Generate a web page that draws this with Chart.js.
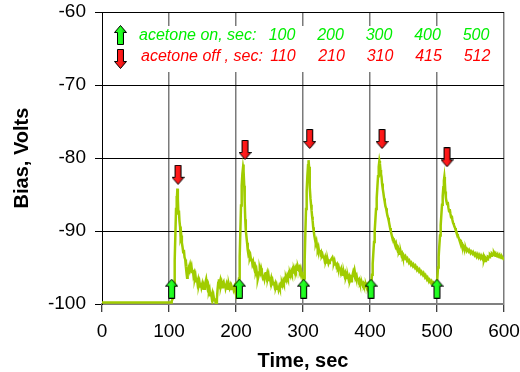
<!DOCTYPE html>
<html><head><meta charset="utf-8">
<script src="https://cdn.jsdelivr.net/npm/chart.js@4"></script>
<style>html,body{margin:0;padding:0;background:#fff;}canvas{display:block;}</style>
</head><body>
<canvas id="c" width="520" height="372"></canvas>
<script>
// ---- data ----
const timeSec = [0,50,103,
104,106,107.5,108.5,109.5,110.5,111.2,111.8,112.5,113.2,114,114.8,115.6,116.5,117.4,118.3,119.2,120.2,121.2,122.2,123.2,124.2,125.2,126.2,127,127.8,128.6,129.5,130.5,131.5,132.5,133.5,134.5,135.5,136.5,137.5,138.5,139.5,140.5,141.5,142.5,143.5,144.5,145.5,146.5,147.5,148.5,149.5,150.5,151.5,152.5,153.5,154.5,155.5,156.5,157.5,158.5,159.5,160.5,161.5,162.5,163.5,164.5,165.5,166.5,167.5,168.5,169.5,170.5,171.5,172.5,173.5,174.5,175.5,176.5,177.5,178.5,179.5,180.5,181.5,182.5,183.5,184.5,185.5,186.5,187.5,188.5,189.5,190.5,191.5,192.5,193.5,194.5,195.5,196.5,197.5,198.5,199.5,200.5,201.5,202.5,203.5,
204.5,205.5,206.5,207.5,208.5,209.5,210.5,211,211.6,212.3,213,213.8,214.6,215.5,216.5,217.5,218.5,219.5,220.5,221.5,222.5,223.5,224.5,225.5,226.5,227.5,228.5,229.5,230.5,231.5,232.5,233.5,234.5,235.5,236.5,237.5,238.5,239.5,240.5,241.5,242.5,243.5,244.5,245.5,246.5,247.5,248.5,249.5,250.5,251.5,252.5,253.5,254.5,255.5,256.5,257.5,258.5,259.5,260.5,261.5,262.5,263.5,264.5,265.5,266.5,267.5,268.5,269.5,270.5,271.5,272.5,273.5,274.5,275.5,276.5,277.5,278.5,279.5,280.5,281.5,282.5,283.5,284.5,285.5,286.5,287.5,288.5,289.5,290.5,291.5,292.5,293.5,294.5,295.5,296.5,297.5,298.5,299.5,300.5,301.5,
302.5,303.5,304.5,305.5,306.5,307.5,308.3,309,309.7,310.4,311.2,312,312.8,313.6,314.4,315.2,316,317,318,319,320,321,322,323,324,325,326,327,328,329,330,331,332,333,334,335,336,337,338,339,340,342,344,345,346,347,348,349,350,351,352,353,354,355,356,357,358,359,360,361,362,363,364,365,366,367,368,369,370,371,372,373,374,375,376,377,378,379,380,381,382,383,384,385,386,387,388,389,390,391,392,393,394,395,396,397,398,399,400,401,402,
403,404,405,406,407,408,409,410,411,412,413,414,414.8,415.6,416.4,417.2,418,419,420,421,422,423,424,425,426,427,428,429,430,431,432,433,434,435,436,437,438,439,440,441,442,443,444,445,446,447,448,449,450,452,453,455,456,458,459,461,462,464,465,467,468,470,471,473,474,476,477,479,480,482,483,485,486,488,489,491,492,494,495,497,498,499.5,
500.5,501.5,502.5,503.5,504.5,505.5,506.5,507.5,508.5,509.5,510.3,511,511.7,512.4,513.2,514,515,516,517,518,519,520,521,522,523,524,525,526,527,528,529,530,531,532,533,534,535,536,537,538,539,540,541,542,543,544,545,547,548,550,551,553,554,556,557,559,560,562,563,565,566,568,569,570,571,572,573,575,576,578,579,581,582,584,585,587,588,590,591,593,594,596,597,599,600];

const biasVolts = [-99.8,-99.8,-99.8,
-99.6,-99.2,-97.5,-94,-90.5,-87,-85.2,-86.2,-84.2,-85.6,-87.6,-87.2,-88.6,-89.4,-90.9,-90.6,-91.6,-92.2,-92.9,-92.6,-93.6,-93.9,-94.9,-95.8,-96.4,-96.0,-95.4,-95.9,-95.0,-94.6,-95.1,-94.8,-95.6,-95.3,-96.1,-95.8,-96.5,-96.1,-96.9,-96.4,-97.1,-96.7,-97.4,-97.0,-97.6,-97.1,-97.7,-97.3,-98.0,-97.5,-97.9,-97.4,-97.0,-96.6,-97.3,-97.8,-97.5,-98.3,-98.0,-98.8,-98.4,-99.0,-98.6,-99.3,-98.9,-99.5,-99.2,-99.8,-100.2,-99.3,-98.0,-97.1,-96.6,-97.2,-96.8,-97.5,-97.1,-97.7,-97.2,-97.0,-97.6,-97.2,-97.8,-97.4,-98.0,-97.5,-97.9,-97.4,-97.8,-97.5,-98.1,-97.6,-97.9,-97.5,-98.0,-97.7,-98.1,-97.6,-98.0,-97.5,-97.8,-97.4,
-96.5,-93.5,-90,-86.5,-83.8,-82.2,-81.3,-80.9,-81.8,-83.8,-86,-88.4,-89.9,-90.7,-91.6,-92.6,-93.2,-93.0,-93.7,-93.4,-94.0,-93.8,-94.5,-94.2,-94.8,-95.2,-94.9,-95.6,-95.3,-96.0,-96.6,-96.2,-95.7,-95.2,-95.6,-95.1,-95.5,-96.2,-96.6,-96.0,-96.5,-95.9,-95.6,-96.2,-95.8,-96.4,-96.0,-96.7,-96.3,-96.9,-96.5,-97.1,-96.8,-97.3,-97.0,-97.5,-97.2,-97.7,-97.4,-97.9,-97.5,-98.0,-97.6,-97.9,-97.4,-97.6,-97.1,-97.4,-96.9,-97.2,-96.7,-96.9,-96.4,-96.7,-96.2,-96.5,-96.0,-96.3,-95.8,-96.1,-95.6,-95.9,-95.4,-95.7,-95.3,-95.6,-95.1,-95.4,-95.0,-95.3,-94.9,-95.2,-95.0,-95.4,-95.1,-95.6,-96.0,-96.4,-96.8,-96.5,
-94,-90.3,-87,-84.5,-82.5,-81,-80.3,-81.2,-82.8,-84,-85.6,-86.4,-87.2,-88,-88.6,-89.5,-90.0,-90.7,-91.2,-91.7,-91.4,-92.1,-92.5,-92.2,-92.8,-92.6,-93.1,-92.9,-93.4,-93.2,-93.6,-93.4,-93.9,-93.6,-94.1,-93.8,-94.3,-94.0,-94.4,-94.1,-94.2,-93.9,-93.6,-93.9,-94.4,-94.1,-94.6,-94.3,-94.8,-94.6,-95.0,-94.8,-95.2,-95.0,-95.5,-95.2,-95.7,-95.5,-96.0,-95.7,-96.1,-95.8,-96.3,-96.0,-96.4,-96.2,-96.6,-96.3,-96.8,-96.5,-96.9,-96.4,-96.0,-95.6,-95.9,-95.4,-95.9,-96.3,-96.1,-96.6,-96.4,-96.9,-96.7,-97.1,-96.9,-97.3,-97.1,-97.4,-97.2,-97.5,-97.3,-97.6,-97.4,-97.7,-97.4,-97.6,-97.3,-97.5,-97.2,-97.4,-97.2,
-96,-94.5,-93,-91.5,-90,-88.5,-87,-85.5,-84,-82.5,-81.2,-80.4,-80.8,-81.6,-82.2,-82.6,-83.5,-84.2,-84.8,-85.5,-86.0,-86.6,-86.9,-87.4,-87.9,-88.2,-88.6,-89.1,-89.6,-90.0,-90.4,-90.8,-91.0,-91.4,-91.3,-91.8,-92.1,-91.8,-92.3,-92.6,-92.4,-92.9,-92.7,-93.1,-92.9,-93.3,-93.1,-93.5,-93.3,-93.7,-93.5,-94.0,-93.8,-94.3,-94.1,-94.6,-94.4,-94.8,-94.6,-95.0,-94.8,-95.3,-95.1,-95.5,-95.3,-95.8,-95.6,-96.0,-95.8,-96.3,-96.1,-96.6,-96.4,-96.9,-96.7,-97.1,-96.9,-97.3,-97.1,-97.4,-97.2,-97.3,
-96.5,-95,-93.5,-92,-90.6,-89.2,-87.8,-86.4,-85.2,-84.0,-83.1,-82.6,-83.3,-84.6,-85.4,-85.9,-86.3,-86.0,-86.8,-87.3,-87.0,-87.6,-88.1,-87.9,-88.5,-88.9,-89.1,-89.4,-89.6,-89.9,-90.1,-90.4,-90.6,-90.9,-91.1,-91.4,-91.6,-91.5,-91.9,-92.1,-92.0,-92.3,-92.2,-92.6,-92.4,-92.7,-92.5,-92.8,-92.6,-93.0,-92.8,-93.1,-92.9,-93.3,-93.1,-93.5,-93.2,-93.6,-93.3,-93.7,-93.4,-93.8,-93.5,-94.0,-93.7,-94.1,-93.7,-93.9,-93.5,-93.6,-93.2,-93.4,-93.1,-93.3,-93.0,-93.4,-93.2,-93.5,-93.3,-93.6,-93.4,-93.7,-93.5,-93.8,-93.7];

// arrow markers (positions as drawn in the picture)
const onArrowTime  = [104, 205, 301, 401.5, 500];
const onArrowBias  = [-97.9, -97.9, -97.9, -97.9, -97.9];
const offArrowTime = [113.5, 213.5, 310, 418, 515];
const offArrowBias = [-82.3, -78.9, -77.4, -77.4, -79.9];

// legend texts / numbers
const acetoneOnSec  = [100, 200, 300, 400, 500];
const acetoneOffSec = [110, 210, 310, 415, 512];
const onLabel  = 'acetone on, sec:';
const offLabel = 'acetone off , sec:';
const xTitle = 'Time, sec';
const yTitle = 'Bias, Volts';

// ---- drawing ----
const FONT = '"Liberation Sans", Arial, sans-serif';

function arrowImage(up, light, dark) {
  const c = document.createElement('canvas');
  c.width = 13; c.height = 20;
  const g = c.getContext('2d');
  g.save();
  if (!up) { g.translate(0, 20); g.scale(1, -1); }
  g.beginPath();
  g.moveTo(6.5, 0.5); g.lineTo(12.5, 7.5); g.lineTo(9.5, 7.5); g.lineTo(9.5, 19.5);
  g.lineTo(3.5, 19.5); g.lineTo(3.5, 7.5); g.lineTo(0.5, 7.5); g.closePath();
  const grad = g.createLinearGradient(0, 0, 13, 0);
  grad.addColorStop(0, light); grad.addColorStop(0.55, light); grad.addColorStop(1, dark);
  g.fillStyle = grad; g.fill();
  g.strokeStyle = '#000'; g.lineWidth = 1; g.stroke();
  g.restore();
  return c;
}
const upArrow = arrowImage(true, '#22ff22', '#00a000');
const downArrow = arrowImage(false, '#ff1a1a', '#a00000');

const legendPlugin = {
  id: 'acetoneLegend',
  beforeDatasetsDraw(chart) {
    const { ctx, chartArea: a } = chart;
    ctx.save();
    ctx.fillStyle = '#ffffff';
    ctx.fillRect(a.left + 2, a.top + 14, a.right - a.left - 6, 46);
    ctx.drawImage(upArrow, a.left + 12, a.top + 13);
    ctx.drawImage(downArrow, a.left + 12, a.top + 37);
    ctx.font = 'italic 16px ' + FONT;
    ctx.textBaseline = 'middle';
    ctx.textAlign = 'left';
    ctx.fillStyle = '#00ee00';
    ctx.fillText(onLabel, a.left + 37, a.top + 24);
    ctx.fillStyle = '#ff0000';
    ctx.fillText(offLabel, a.left + 39, a.top + 45);
    ctx.textAlign = 'center';
    acetoneOnSec.forEach((v, i) => {
      ctx.fillStyle = '#00ee00';
      ctx.fillText(String(v), a.left + 180 + i * 48.5, a.top + 24);
    });
    acetoneOffSec.forEach((v, i) => {
      ctx.fillStyle = '#ff0000';
      ctx.fillText(String(v), a.left + 181 + i * 48.5, a.top + 45);
    });
    ctx.restore();
  }
};

const lineData = timeSec.map((t, i) => ({ x: t, y: biasVolts[i] }));
const onData = onArrowTime.map((t, i) => ({ x: t, y: onArrowBias[i] }));
const offData = offArrowTime.map((t, i) => ({ x: t, y: offArrowBias[i] }));

new Chart(document.getElementById('c'), {
  type: 'scatter',
  data: {
    datasets: [
      { data: lineData, showLine: true, borderColor: 'rgb(160,204,0)', borderWidth: 2.5,
        pointRadius: 0, fill: false, tension: 0, order: 3 },
      { data: onData, pointStyle: upArrow, pointRadius: 10, order: 1 },
      { data: offData, pointStyle: downArrow, pointRadius: 10, order: 1 }
    ]
  },
  options: {
    responsive: false,
    animation: false,
    devicePixelRatio: 1,
    layout: { padding: { top: 12, right: 16, left: 0, bottom: 0 } },
    plugins: { legend: { display: false }, tooltip: { enabled: false } },
    scales: {
      x: {
        type: 'linear', min: 0, max: 600,
        afterFit(s) { s.height = 68; s.paddingLeft = 0; s.paddingRight = 0; },
        ticks: { stepSize: 100, color: '#000', padding: 8, maxRotation: 0,
                 font: { family: FONT, size: 19 } },
        grid: {
          color: c => (c.tick && c.tick.value === 0) ? 'rgba(0,0,0,0)' : '#7a7a7a',
          lineWidth: 1.5, tickColor: '#000', tickWidth: 1, tickLength: 8
        },
        border: { color: '#808080', width: 2 },
        title: { display: true, text: xTitle, color: '#000',
                 font: { family: FONT, size: 20, weight: 'bold' }, padding: { top: 0, bottom: -1 } }
      },
      y: {
        type: 'linear', min: -100, max: -60,
        afterFit(s) { s.width = 102; s.paddingTop = 0; s.paddingBottom = 0; },
        ticks: { stepSize: 10, color: '#000', padding: 9,
                 font: { family: FONT, size: 19 } },
        grid: {
          color: c => (c.tick && c.tick.value === -100) ? 'rgba(0,0,0,0)' : '#000',
          lineWidth: 1, tickColor: '#000', tickWidth: 1, tickLength: 7
        },
        border: { color: '#000', width: 1 },
        title: { display: true, text: yTitle, color: '#000',
                 font: { family: FONT, size: 20, weight: 'bold' }, padding: { top: 10, bottom: 0 } }
      }
    }
  },
  plugins: [legendPlugin]
});
</script>
</body></html>
